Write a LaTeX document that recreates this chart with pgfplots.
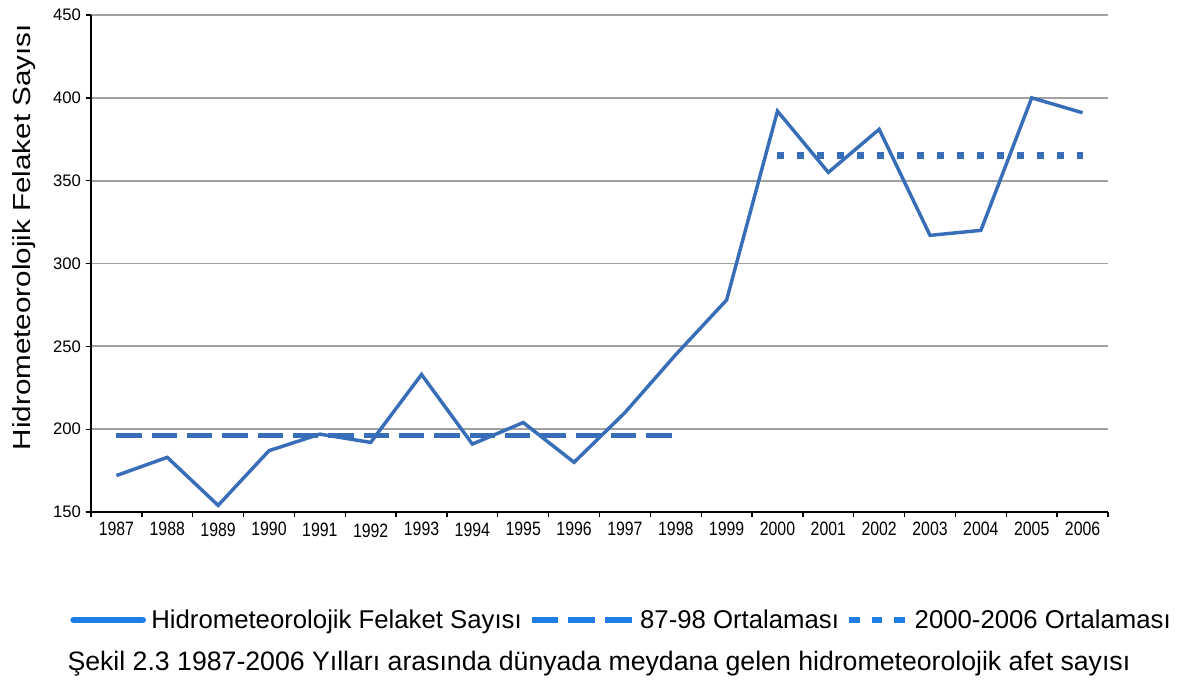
\documentclass[border=0pt]{standalone}
\usepackage{fontspec}
\setmainfont{Liberation Sans}
\newfontfamily\ticknarrow[FakeStretch=0.82]{Liberation Sans}
\newfontfamily\ylabfont[FakeStretch=1.2]{Liberation Sans}
\usepackage{pgfplots}
\pgfplotsset{compat=1.18}
\definecolor{chartblue}{RGB}{56,110,184}
\definecolor{legblue}{RGB}{30,125,230}
\definecolor{gridgray}{RGB}{160,160,160}
\newcommand{\dn}[2]{\rule{0pt}{#1}#2}
\begin{document}
\begin{tikzpicture}
\useasboundingbox (-68.25pt,-133.5pt) rectangle (822.75pt,384pt);
\begin{axis}[
  at={(0,0)}, anchor=south west,
  scale only axis,
  clip=false,
  width=762.75pt, height=372.75pt,
  xmin=-0.5, xmax=19.5,
  ymin=150, ymax=450,
  ytick={150,200,...,450},
  xtick={-0.5,0.5,...,19.5},
  x tick label as interval,
  xticklabels={1987,1988,\dn{10.5pt}{1989},1990,\dn{10.5pt}{1991},\dn{11.5pt}{1992},\dn{10pt}{1993},\dn{10.5pt}{1994},1995,\dn{10pt}{1996},\dn{10pt}{1997},\dn{10pt}{1998},1999,2000,2001,2002,2003,2004,2005,2006},
  axis x line*=bottom,
  axis y line*=left,
  axis line style={line width=1.2pt, black},
  tick align=outside,
  major tick length=4pt,
  tick style={line width=1pt, black},
  ymajorgrids,
  grid style={line width=1.3pt, gridgray},
  /pgf/number format/assume math mode=true,
  yticklabel style={font=\fontsize{12.5}{14}\selectfont},
  xticklabel style={font=\ticknarrow\fontsize{14.5}{16}\selectfont},
  ylabel={\ylabfont Hidrometeorolojik Felaket Sayısı},
  ylabel style={at={(axis description cs:-0.066,0.553)}, anchor=center, font=\fontsize{18.5}{20}\selectfont},
  legend columns=3,
  legend style={draw=none, fill=none, at={(axis description cs:0.522,-0.217)}, anchor=center,
    font=\fontsize{19.3}{22}\selectfont,
    /tikz/every even column/.append style={column sep=3pt},
    /tikz/every odd column/.append style={column sep=2pt},
    inner sep=0pt},
  legend cell align=left,
]
\addplot[chartblue, line width=2.6pt, line join=miter,
  legend image code/.code={\draw[legblue, line width=4.8pt, line cap=round] (0pt,0pt) -- (52pt,0pt);}]
  coordinates {
  (0,172) (1,183) (2,154) (3,187) (4,197) (5,192) (6,233) (7,191) (8,204) (9,180)
  (10,210) (11,245) (12,278) (13,392) (14,355) (15,381) (16,317) (17,320) (18,400) (19,391)
};
\addlegendentry{Hidrometeorolojik Felaket Sayısı}
\addplot[chartblue, line width=3.75pt, dash pattern=on 19pt off 7.5pt,
  legend image code/.code={\draw[legblue, line width=4.8pt, dash pattern=on 20pt off 7.5pt] (0pt,0pt) -- (75pt,0pt);}]
  coordinates {(0,196) (11,196)};
\addlegendentry{87-98 Ortalaması}
\addplot[chartblue, line width=5pt, dash pattern=on 5.25pt off 9.75pt,
  legend image code/.code={\draw[legblue, line width=4.8pt, dash pattern=on 8pt off 9pt] (0pt,0pt) -- (43pt,0pt);}]
  coordinates {(13,365) (19,365)};
\addlegendentry{2000-2006 Ortalaması}
\node[font=\fontsize{20}{22}\selectfont, anchor=center] at (axis description cs:0.4995,-0.305)
  {Şekil 2.3 1987-2006 Yılları arasında dünyada meydana gelen hidrometeorolojik afet sayısı};
\end{axis}
\end{tikzpicture}
\end{document}
